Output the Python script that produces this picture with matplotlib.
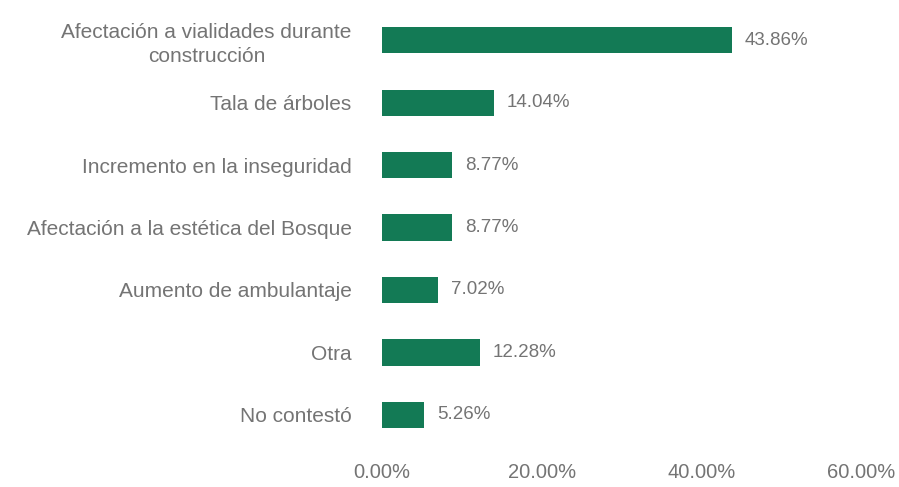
import matplotlib.pyplot as plt

categories = ['Afectación a vialidades durante\nconstrucción', 'Tala de árboles',
              'Incremento en la inseguridad', 'Afectación a la estética del Bosque',
              'Aumento de ambulantaje', 'Otra', 'No contestó']
values = [43.86, 14.04, 8.77, 8.77, 7.02, 12.28, 5.26]
x_ticks = [0, 20, 40, 60]

plt.rcParams['font.family'] = ['Liberation Sans', 'DejaVu Sans']
text_color = '#747474'
bar_color = '#137a55'

fig = plt.figure(figsize=(8.99, 4.87), dpi=100)
ax = fig.add_axes([0.425, 0.084, 0.533, 0.8975])

pos = list(range(len(categories)))
ax.barh(pos, values, height=0.42, color=bar_color)
for p, v in zip(pos, values):
    ax.text(v + 1.6, p, f'{v:.2f}%', va='center', ha='left', fontsize=13.5, color=text_color)

ax.set_yticks(pos)
ax.set_yticklabels(categories, fontsize=15, color=text_color, multialignment='center',
                   linespacing=1.3)
ax.set_ylim(len(categories) - 0.5, -0.5)
ax.set_xlim(0, 60)
ax.set_xticks(x_ticks)
ax.set_xticklabels([f'{t:.2f}%' for t in x_ticks], fontsize=14.5, color=text_color)

ax.tick_params(axis='y', length=0, pad=22)
ax.tick_params(axis='x', length=0, pad=12)
for s in ax.spines.values():
    s.set_visible(False)

fig.savefig('out.png', dpi=100)
